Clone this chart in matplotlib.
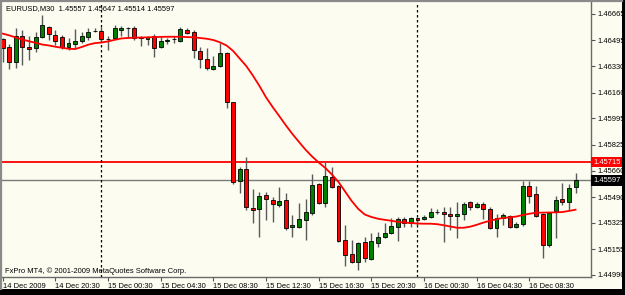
import matplotlib
matplotlib.use("Agg")
import matplotlib.pyplot as plt
from matplotlib import font_manager
from matplotlib.patches import Rectangle
from matplotlib.lines import Line2D
import matplotlib.transforms as mtransforms

# ---------------- data ----------------
symbol_header = "EURUSD,M30  1.45557 1.45647 1.45514 1.45597"
copyright_text = "FxPro MT4, \u00a9 2001-2009 MetaQuotes Software Corp."

opens = [1.46504, 1.46453, 1.46357, 1.46524, 1.46453, 1.46447, 1.46517, 1.46582, 1.46530, 1.46517,
         1.46453, 1.46472, 1.46492, 1.46517, 1.46556, 1.46556, 1.46504, 1.46511, 1.46562, 1.46575,
         1.46575, 1.46517, 1.46504, 1.46524, 1.46453, 1.46492, 1.46504, 1.46492, 1.46562, 1.46550,
         1.46428, 1.46376, 1.46312, 1.46331, 1.46415, 1.46100, 1.45593, 1.45670, 1.45420, 1.45414,
         1.45503, 1.45471, 1.45439, 1.45471, 1.45298, 1.45298, 1.45343, 1.45388, 1.45574, 1.45452,
         1.45619, 1.45561, 1.45215, 1.45125, 1.45073, 1.45202, 1.45093, 1.45195, 1.45234, 1.45260,
         1.45298, 1.45349, 1.45324, 1.45356, 1.45349, 1.45362, 1.45394, 1.45394, 1.45381, 1.45369,
         1.45381, 1.45458, 1.45426, 1.45446, 1.45414, 1.45292, 1.45356, 1.45369, 1.45298, 1.45317,
         1.45561, 1.45510, 1.45381, 1.45182, 1.45401, 1.45478, 1.45458, 1.45557]
highs = [1.46511, 1.46472, 1.46575, 1.46562, 1.46524, 1.46550, 1.46659, 1.46588, 1.46562, 1.46530,
         1.46511, 1.46569, 1.46550, 1.46575, 1.46575, 1.46582, 1.46524, 1.46594, 1.46588, 1.46582,
         1.46588, 1.46524, 1.46524, 1.46537, 1.46517, 1.46511, 1.46524, 1.46582, 1.46575, 1.46562,
         1.46453, 1.46447, 1.46395, 1.46479, 1.46418, 1.46100, 1.45683, 1.45747, 1.45542, 1.45523,
         1.45523, 1.45491, 1.45555, 1.45516, 1.45375, 1.45452, 1.45478, 1.45638, 1.45580, 1.45715,
         1.45683, 1.45568, 1.45311, 1.45215, 1.45202, 1.45234, 1.45260, 1.45266, 1.45324, 1.45356,
         1.45362, 1.45362, 1.45362, 1.45362, 1.45375, 1.45420, 1.45414, 1.45426, 1.45426, 1.45458,
         1.45458, 1.45465, 1.45458, 1.45458, 1.45426, 1.45381, 1.45388, 1.45375, 1.45330, 1.45593,
         1.45593, 1.45561, 1.45388, 1.45394, 1.45497, 1.45580, 1.45574, 1.45647]
lows = [1.46357, 1.46312, 1.46318, 1.46338, 1.46370, 1.46421, 1.46510, 1.46498, 1.46466, 1.46440,
        1.46434, 1.46447, 1.46479, 1.46498, 1.46550, 1.46492, 1.46434, 1.46504, 1.46524, 1.46517,
        1.46498, 1.46460, 1.46466, 1.46389, 1.46447, 1.46472, 1.46479, 1.46485, 1.46537, 1.46383,
        1.46318, 1.46306, 1.46306, 1.46325, 1.46062, 1.45574, 1.45516, 1.45407, 1.45324, 1.45234,
        1.45343, 1.45330, 1.45426, 1.45279, 1.45234, 1.45292, 1.45215, 1.45375, 1.45446, 1.45426,
        1.45548, 1.45202, 1.45048, 1.45067, 1.45022, 1.45073, 1.45086, 1.45170, 1.45230, 1.45253,
        1.45208, 1.45298, 1.45298, 1.45311, 1.45343, 1.45356, 1.45381, 1.45202, 1.45279, 1.45227,
        1.45343, 1.45407, 1.45420, 1.45349, 1.45285, 1.45234, 1.45311, 1.45292, 1.45290, 1.45304,
        1.45452, 1.45362, 1.45099, 1.45170, 1.45227, 1.45439, 1.45407, 1.45514]
closes = [1.46447, 1.46357, 1.46524, 1.46453, 1.46440, 1.46517, 1.46594, 1.46537, 1.46492, 1.46453,
          1.46479, 1.46492, 1.46524, 1.46550, 1.46556, 1.46504, 1.46504, 1.46575, 1.46575, 1.46575,
          1.46511, 1.46514, 1.46520, 1.46447, 1.46492, 1.46501, 1.46504, 1.46569, 1.46543, 1.46434,
          1.46376, 1.46318, 1.46331, 1.46415, 1.46100, 1.45587, 1.45670, 1.45426, 1.45407, 1.45497,
          1.45478, 1.45446, 1.45465, 1.45292, 1.45311, 1.45349, 1.45394, 1.45568, 1.45452, 1.45625,
          1.45555, 1.45208, 1.45118, 1.45073, 1.45195, 1.45099, 1.45208, 1.45234, 1.45260, 1.45304,
          1.45349, 1.45324, 1.45356, 1.45343, 1.45362, 1.45394, 1.45394, 1.45381, 1.45369, 1.45381,
          1.45446, 1.45426, 1.45446, 1.45414, 1.45292, 1.45356, 1.45375, 1.45298, 1.45317, 1.45561,
          1.45497, 1.45369, 1.45182, 1.45388, 1.45471, 1.45458, 1.45548, 1.45597]
moving_avg = [1.46539, 1.46528, 1.46514, 1.46501, 1.46490, 1.46480, 1.46469, 1.46463, 1.46455, 1.46448,
              1.46442, 1.46440, 1.46453, 1.46468, 1.46478, 1.46482, 1.46489, 1.46499, 1.46508, 1.46511,
              1.46513, 1.46514, 1.46515, 1.46517, 1.46518, 1.46519, 1.46519, 1.46519, 1.46517, 1.46515,
              1.46511, 1.46506, 1.46498, 1.46483, 1.46463, 1.46428, 1.46379, 1.46331, 1.46270, 1.46203,
              1.46130, 1.46068, 1.46010, 1.45951, 1.45895, 1.45844, 1.45794, 1.45750, 1.45712, 1.45677,
              1.45635, 1.45587, 1.45526, 1.45465, 1.45414, 1.45378, 1.45362, 1.45351, 1.45344, 1.45338,
              1.45331, 1.45326, 1.45324, 1.45320, 1.45319, 1.45319, 1.45316, 1.45309, 1.45301, 1.45293,
              1.45293, 1.45300, 1.45312, 1.45326, 1.45338, 1.45348, 1.45356, 1.45360, 1.45365, 1.45375,
              1.45383, 1.45390, 1.45390, 1.45391, 1.45392, 1.45394, 1.45401, 1.45409]

date_labels = ["14 Dec 2009", "14 Dec 20:30", "15 Dec 00:30", "15 Dec 04:30", "15 Dec 08:30",
               "15 Dec 12:30", "15 Dec 16:30", "15 Dec 20:30", "16 Dec 00:30", "16 Dec 04:30",
               "16 Dec 08:30"]
date_label_bars = [0, 8, 16, 24, 32, 40, 48, 56, 64, 72, 80]
day_separator_bars = [15, 63]
price_ticks = [1.46665, 1.46495, 1.46330, 1.46160, 1.45995, 1.45825, 1.45660,
               1.45490, 1.45325, 1.45155, 1.44990]
level_line = 1.45715
bid_price = 1.45597

# ---------------- style ----------------
names = {f.name for f in font_manager.fontManager.ttflist}
if "Liberation Sans Narrow" in names:
    FONT = "Liberation Sans Narrow"; FS = 6.2
else:
    FONT = "Liberation Sans"; FS = 5.4
plt.rcParams["font.family"] = [FONT, "DejaVu Sans"]

BG = "#FCFDF0"
W, H = 625, 295
fig = plt.figure(figsize=(W / 100, H / 100), dpi=100, facecolor=BG)

def fx(px):
    return px / W

def fy(py):
    return 1 - py / H

# window frame
fig.patches.append(Rectangle((fx(622), 0), fx(3), 1, transform=fig.transFigure,
                             facecolor="black", edgecolor="none", zorder=0))
fig.patches.append(Rectangle((0, 0), 1, fy(289), transform=fig.transFigure,
                             facecolor="black", edgecolor="none", zorder=0))
fig.lines.append(Line2D([0, fx(622)], [fy(1), fy(1)], transform=fig.transFigure,
                        color="#8a8a8a", lw=1.6))
fig.lines.append(Line2D([fx(1.2), fx(1.2)], [fy(289), 1], transform=fig.transFigure,
                        color="#8a8a8a", lw=1.6))

left, right, top, bottom = 2, 591, 2, 277
ax = fig.add_axes([fx(left), fy(bottom), fx(right - left), (bottom - top) / H], facecolor=BG)

n = len(opens)
xs = list(range(n))

ax.set_xlim(-0.1, 89.35)
ax.set_ylim(1.44977, 1.46742)

# MA line and level lines
ax.axhline(level_line, color="#ff0000", lw=1.3, zorder=1)
ax.axhline(bid_price, color="#7a7a7a", lw=1.0, zorder=1)
for b in day_separator_bars:
    ax.axvline(b, color="black", lw=0.9, linestyle=(0, (2, 2)), zorder=1)

# candles
for i in xs:
    o, h, l, c = opens[i], highs[i], lows[i], closes[i]
    ax.vlines(i, l, h, color="#5a5a5a", lw=1.0, zorder=2)
    col = "#008000" if c >= o else "#ff0000"
    ax.bar(i, c - o, bottom=o, width=0.6, color=col, edgecolor="black", linewidth=0.6, zorder=3)

ax.plot(xs, moving_avg, color="#ff0000", lw=1.3, zorder=4)

# axes styling
for s in ["top", "left"]:
    ax.spines[s].set_visible(False)
ax.spines["right"].set_color("#6a6a6a")
ax.spines["bottom"].set_color("#6a6a6a")
ax.spines["right"].set_linewidth(1.0)
ax.spines["bottom"].set_linewidth(1.0)

ax.yaxis.tick_right()
ax.set_yticks(price_ticks)
ax.set_yticklabels([f"{v:.5f}" for v in price_ticks])
ax.tick_params(axis="y", direction="out", length=3, width=0.8, color="#555555",
               labelsize=FS, pad=1.5, labelcolor="black")
ax.set_xticks(date_label_bars)
ax.set_xticklabels(date_labels)
ax.tick_params(axis="x", direction="out", length=3, width=0.8, color="#555555",
               labelsize=FS, pad=1.5, labelcolor="black")
for lab in ax.get_xticklabels():
    lab.set_horizontalalignment("left")

# price boxes on axis
trans = mtransforms.blended_transform_factory(ax.transAxes, ax.transData)
ax.text(1.004, level_line, f"{level_line:.5f}", transform=trans, color="white",
        fontsize=FS, va="center", ha="left",
        bbox=dict(facecolor="#ff0000", edgecolor="none", boxstyle="square,pad=0.25"),
        clip_on=False, zorder=6)
ax.text(1.004, bid_price, f"{bid_price:.5f}", transform=trans, color="white",
        fontsize=FS, va="center", ha="left",
        bbox=dict(facecolor="black", edgecolor="none", boxstyle="square,pad=0.25"),
        clip_on=False, zorder=6)

# header and copyright
fig.text(fx(6), fy(9), symbol_header, fontsize=FS, va="center", ha="left", color="black")
fig.text(fx(5), fy(271), copyright_text, fontsize=FS, va="center", ha="left", color="black")

fig.savefig("out.png", dpi=100, facecolor=BG)
